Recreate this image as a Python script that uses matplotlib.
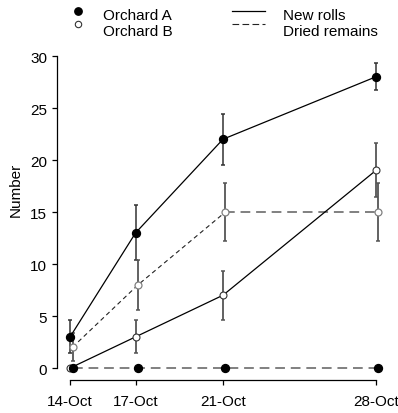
import matplotlib.pyplot as plt
from matplotlib.lines import Line2D

plt.rcParams['font.family'] = ['Liberation Sans', 'DejaVu Sans']
plt.rcParams['font.size'] = 11

days = [14, 17, 21, 28]
day_labels = ['14-Oct', '17-Oct', '21-Oct', '28-Oct']

a_new = [3, 13, 22, 28]
a_new_err = [1.6, 2.65, 2.45, 1.3]
a_dried = [0, 0, 0, 0]
b_new = [0, 3, 7, 19]
b_new_err = [0, 1.6, 2.35, 2.6]
b_dried = [2, 8, 15, 15]
b_dried_err = [1.35, 2.4, 2.75, 2.75]

shift = 0.11  # dried series drawn a touch to the right
days_d = [d + shift for d in days]

W, H = 398, 414
fig = plt.figure(figsize=(W / 100, H / 100), dpi=100)
ax = fig.add_axes([57 / W, 33 / H, 332 / W, (381 - 46.6) / H])

ecol = '#555555'
gray = '#808080'

# error bars first
ax.errorbar(days, a_new, yerr=a_new_err, fmt='none', ecolor='#333333',
            elinewidth=1.1, capsize=1.5, capthick=1.1, zorder=2)
ax.errorbar(days[1:], b_new[1:], yerr=b_new_err[1:], fmt='none', ecolor=ecol,
            elinewidth=1.3, capsize=1.5, capthick=1.1, zorder=2)
ax.errorbar(days_d, b_dried, yerr=b_dried_err, fmt='none', ecolor=ecol,
            elinewidth=1.3, capsize=1.5, capthick=1.1, zorder=2)

# new rolls
ax.plot(days, a_new, color='black', lw=0.9, marker='o', ms=5.7,
        mfc='black', mec='black', zorder=4)
ax.plot(days, b_new, color='black', lw=0.9, marker='o', ms=5.0,
        mfc='white', mec='#333333', mew=0.8, zorder=4)

# dried remains
ax.plot(days_d[:3], b_dried[:3], color='#222222', lw=0.8, ls=(0, (4, 3)), zorder=3)
ax.plot(days_d[2:], b_dried[2:], color=gray, lw=1.4, ls=(0, (5, 3)), zorder=3)
ax.plot(days_d, b_dried, ls='none', marker='o', ms=5.0,
        mfc='white', mec=gray, mew=0.9, zorder=4)
ax.plot(days_d, a_dried, color=gray, lw=1.4, ls=(0, (5, 3)), marker='o', ms=5.7,
        mfc='black', mec='black', zorder=5)

ax.set_xlim(13.4, 28.6)
ax.set_ylim(-1.15, 31)
ax.set_xticks(days)
ax.set_xticklabels(day_labels)
ax.set_yticks(range(0, 31, 5))

for s in ['top', 'right']:
    ax.spines[s].set_visible(False)
ax.spines['left'].set_bounds(0, 30)
ax.spines['bottom'].set_bounds(14, 28)
for s in ['left', 'bottom']:
    ax.spines[s].set_linewidth(0.9)
ax.tick_params(axis='y', direction='out', length=3.6, width=0.9, pad=3.5)
ax.tick_params(axis='x', direction='out', length=3.6, width=0.9, pad=6.5)

ax.set_ylabel('Number')
ax.yaxis.set_label_coords(-0.102, 0.571)

# legend, laid out by hand to follow the original spacing
def fx(x):
    return x / W


def fy(y):
    return 1 - y / H


tr = fig.transFigure
fig.add_artist(Line2D([fx(78)], [fy(12.3)], transform=tr, marker='o', ms=5.3,
                      mfc='black', mec='black', ls='none'))
fig.add_artist(Line2D([fx(78)], [fy(25)], transform=tr, marker='o', ms=4.6,
                      mfc='white', mec='#333333', mew=0.8, ls='none'))
fig.add_artist(Line2D([fx(232), fx(265)], [fy(12.3)] * 2, transform=tr,
                      color='black', lw=0.9))
fig.add_artist(Line2D([fx(232), fx(265)], [fy(25)] * 2, transform=tr,
                      color='#222222', lw=0.8, ls=(0, (6, 3))))
fig.text(fx(103), fy(20), 'Orchard A', va='baseline')
fig.text(fx(103), fy(36), 'Orchard B', va='baseline')
fig.text(fx(283), fy(20), 'New rolls', va='baseline')
fig.text(fx(283), fy(36), 'Dried remains', va='baseline')

fig.savefig('out.png', dpi=100)
